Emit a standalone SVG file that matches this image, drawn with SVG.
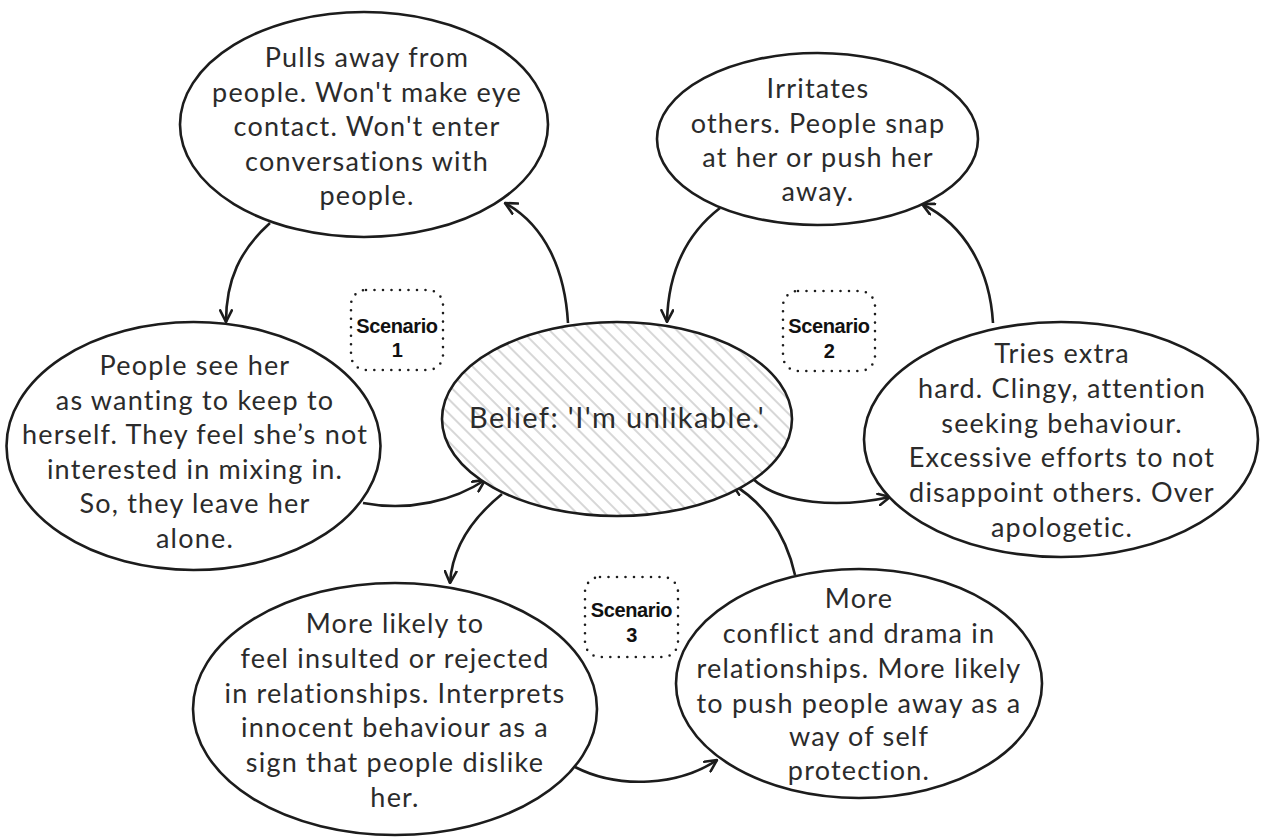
<svg xmlns="http://www.w3.org/2000/svg" width="1261" height="837" viewBox="0 0 1261 837">
<style>
.node{fill:#fff;stroke:#1c1c1c;stroke-width:2.6}
.t{font-family:Lato,"Noto Sans",sans-serif;font-size:27px;letter-spacing:1.2px;fill:#2b2b2b;text-anchor:middle}
.c{fill:none;stroke:#1c1c1c;stroke-width:2.6;marker-end:url(#ah)}
.sbox{fill:none;stroke:#1c1c1c;stroke-width:2.6;stroke-linecap:round;stroke-dasharray:0 8.5}
.s{font-family:"Liberation Sans",Arial,sans-serif;font-weight:bold;font-size:20px;letter-spacing:-0.4px;fill:#111;text-anchor:middle}
</style>
<defs>
<marker id="ah" viewBox="0 0 12 12" refX="11" refY="6" markerWidth="14" markerHeight="14" markerUnits="userSpaceOnUse" orient="auto">
<path d="M1,1 L11,6 L1,11" fill="none" stroke="#1c1c1c" stroke-width="2.2" stroke-linecap="round" stroke-linejoin="round"/>
</marker>
<pattern id="hatch" patternUnits="userSpaceOnUse" width="10" height="10" patternTransform="rotate(45)">
<rect width="10" height="10" fill="#fff"/>
<line x1="0" y1="5" x2="10" y2="5" stroke="#c6c6c6" stroke-width="1.4"/>
</pattern>
</defs>
<rect width="1261" height="837" fill="#fff"/>

<g id="connectors">
<path class="c" d="M568,323 C565,270 545,225 505,203"/>
<path class="c" d="M270,223 C240,250 226,280 226,322"/>
<path class="c" d="M363,503 C410,512 455,500 485,480"/>
<path class="c" d="M502,494 C470,520 452,550 450,583"/>
<path class="c" d="M575,767 C620,790 680,785 717,760"/>
<path class="c" d="M795,575 C785,530 760,500 732,484"/>
<path class="c" d="M720,208 C685,235 668,275 667,322"/>
<path class="c" d="M993,323 C990,270 965,225 922,204"/>
<path class="c" d="M752,478 C780,505 840,508 890,497"/>
</g>

<g id="center">
<ellipse cx="617" cy="419" rx="175" ry="97" fill="url(#hatch)" stroke="#1c1c1c" stroke-width="2.6"/>
<text class="t" x="617" y="428" style="font-size:29px;letter-spacing:1.4px">Belief: 'I'm unlikable.'</text>
</g>

<g id="n-pulls">
<ellipse class="node" cx="364" cy="124.5" rx="184" ry="112.5"/>
<text class="t"><tspan x="367" y="67">Pulls away from</tspan><tspan x="367" y="101.5">people. Won't make eye</tspan><tspan x="367" y="136">contact. Won't enter</tspan><tspan x="367" y="170.5">conversations with</tspan><tspan x="367" y="205">people.</tspan></text>
</g>

<g id="n-people-see">
<ellipse class="node" cx="193.5" cy="446" rx="187" ry="124"/>
<text class="t"><tspan x="195" y="375">People see her</tspan><tspan x="195" y="409.5">as wanting to keep to</tspan><tspan x="195" y="444">herself. They feel she’s not</tspan><tspan x="195" y="478.5">interested in mixing in.</tspan><tspan x="195" y="513">So, they leave her</tspan><tspan x="195" y="547.5">alone.</tspan></text>
</g>

<g id="n-irritates">
<ellipse class="node" cx="817.5" cy="139" rx="160.5" ry="86"/>
<text class="t"><tspan x="818" y="98">Irritates</tspan><tspan x="818" y="132.5">others. People snap</tspan><tspan x="818" y="167">at her or push her</tspan><tspan x="818" y="201">away.</tspan></text>
</g>

<g id="n-tries">
<ellipse class="node" cx="1061" cy="439.5" rx="197" ry="117.5"/>
<text class="t"><tspan x="1062" y="363">Tries extra</tspan><tspan x="1062" y="398">hard. Clingy, attention</tspan><tspan x="1062" y="432.5">seeking behaviour.</tspan><tspan x="1062" y="467">Excessive efforts to not</tspan><tspan x="1062" y="502">disappoint others. Over</tspan><tspan x="1062" y="536.5">apologetic.</tspan></text>
</g>

<g id="n-insulted">
<ellipse class="node" cx="395" cy="709" rx="202" ry="126"/>
<text class="t"><tspan x="395" y="633">More likely to</tspan><tspan x="395" y="668">feel insulted or rejected</tspan><tspan x="395" y="703">in relationships. Interprets</tspan><tspan x="395" y="737">innocent behaviour as a</tspan><tspan x="395" y="772">sign that people dislike</tspan><tspan x="395" y="807">her.</tspan></text>
</g>

<g id="n-conflict">
<ellipse class="node" cx="859" cy="683.5" rx="183" ry="114.5"/>
<text class="t"><tspan x="859" y="608">More</tspan><tspan x="859" y="642.5">conflict and drama in</tspan><tspan x="859" y="677.5">relationships. More likely</tspan><tspan x="859" y="712.5">to push people away as a</tspan><tspan x="859" y="745.5">way of self</tspan><tspan x="859" y="780">protection.</tspan></text>
</g>

<g id="scenario1">
<rect class="sbox" x="351" y="290" width="92" height="80" rx="15"/>
<text class="s"><tspan x="397" y="333">Scenario</tspan><tspan x="397" y="357">1</tspan></text>
</g>
<g id="scenario2">
<rect class="sbox" x="783" y="291" width="92" height="80" rx="15"/>
<text class="s"><tspan x="829" y="333">Scenario</tspan><tspan x="829" y="358">2</tspan></text>
</g>
<g id="scenario3">
<rect class="sbox" x="585" y="577" width="93" height="80" rx="15"/>
<text class="s"><tspan x="631.5" y="617">Scenario</tspan><tspan x="631.5" y="642">3</tspan></text>
</g>
</svg>
